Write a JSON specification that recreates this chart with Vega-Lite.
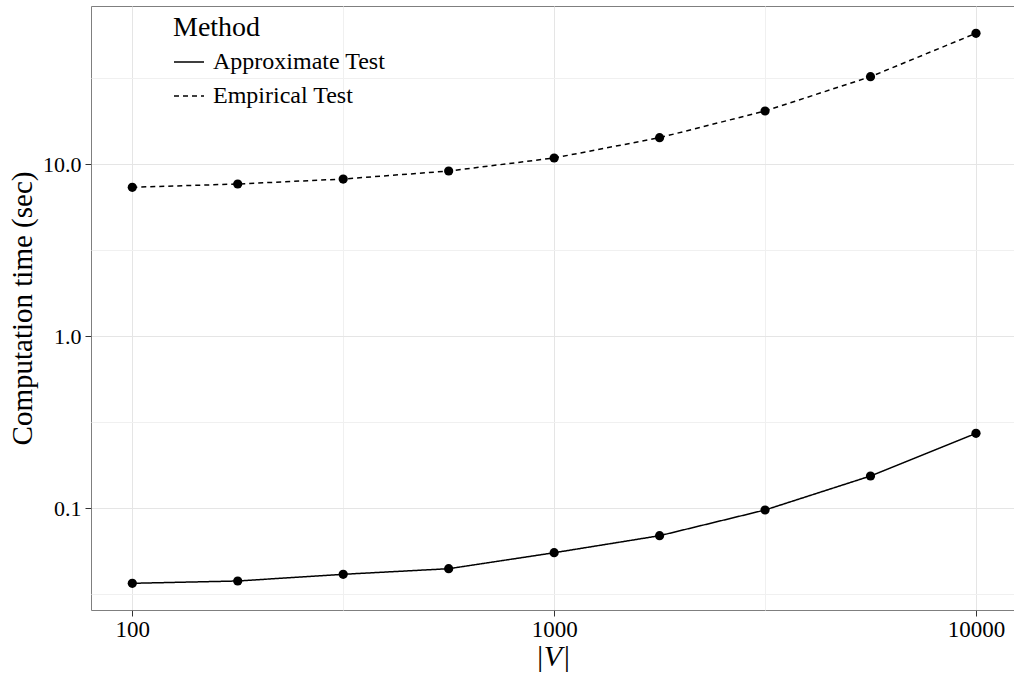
{
  "$schema": "https://vega.github.io/schema/vega-lite/v6.json",
  "width": 923,
  "height": 604,
  "autosize": {"type": "none"},
  "padding": {"left": 91, "top": 6, "right": 0, "bottom": 65},
  "background": "white",
  "config": {
    "view": {"stroke": "#7f7f7f", "strokeWidth": 1},
    "font": "Liberation Serif",
    "axis": {
      "labelFont": "Liberation Serif",
      "titleFont": "Liberation Serif",
      "labelColor": "black",
      "titleColor": "black",
      "titleFontWeight": "normal",
      "domain": false,
      "tickColor": "#333333",
      "tickWidth": 1,
      "tickSize": 6,
      "gridWidth": 1
    },
    "legend": {
      "labelFont": "Liberation Serif",
      "titleFont": "Liberation Serif",
      "titleFontWeight": "normal"
    }
  },
  "data": {
    "values": [
      {"V": 100, "time": 0.03664, "Method": "Approximate Test"},
      {"V": 177.8, "time": 0.03779, "Method": "Approximate Test"},
      {"V": 316.2, "time": 0.04133, "Method": "Approximate Test"},
      {"V": 562.3, "time": 0.04455, "Method": "Approximate Test"},
      {"V": 1000, "time": 0.05517, "Method": "Approximate Test"},
      {"V": 1778, "time": 0.06929, "Method": "Approximate Test"},
      {"V": 3162, "time": 0.09775, "Method": "Approximate Test"},
      {"V": 5623, "time": 0.1541, "Method": "Approximate Test"},
      {"V": 10000, "time": 0.2729, "Method": "Approximate Test"},
      {"V": 100, "time": 7.35, "Method": "Empirical Test"},
      {"V": 177.8, "time": 7.68, "Method": "Empirical Test"},
      {"V": 316.2, "time": 8.21, "Method": "Empirical Test"},
      {"V": 562.3, "time": 9.14, "Method": "Empirical Test"},
      {"V": 1000, "time": 10.88, "Method": "Empirical Test"},
      {"V": 1778, "time": 14.28, "Method": "Empirical Test"},
      {"V": 3162, "time": 20.41, "Method": "Empirical Test"},
      {"V": 5623, "time": 32.31, "Method": "Empirical Test"},
      {"V": 10000, "time": 57.77, "Method": "Empirical Test"}
    ]
  },
  "encoding": {
    "x": {
      "field": "V",
      "type": "quantitative",
      "scale": {"type": "log", "domain": [79.82, 12306], "nice": false, "zero": false},
      "axis": {
        "title": "|V|",
        "titleFontStyle": "italic",
        "titleFontSize": 30,
        "titlePadding": 0,
        "labelFontSize": 23,
        "labelPadding": 2,
        "values": [316.23, 100, 1000, 10000, 3162.3],
        "labelExpr": "abs(log(datum.value)/LN10 - round(log(datum.value)/LN10)) < 0.01 ? format(datum.value, 'd') : ''",
        "tickOpacity": {"condition": {"test": "abs(log(datum.value)/LN10 - round(log(datum.value)/LN10)) < 0.01", "value": 1}, "value": 0},
        "gridColor": {"condition": {"test": "abs(log(datum.value)/LN10 - round(log(datum.value)/LN10)) < 0.01", "value": "#e5e5e5"}, "value": "#f0f0f0"}
      }
    },
    "y": {
      "field": "time",
      "type": "quantitative",
      "scale": {"type": "log", "domain": [0.02563, 83.23], "nice": false, "zero": false},
      "axis": {
        "title": "Computation time (sec)",
        "titleFontSize": 29,
        "titlePadding": 5,
        "labelFontSize": 22,
        "labelPadding": 4,
        "values": [0.031623, 0.1, 0.31623, 1, 3.1623, 10, 31.623],
        "labelExpr": "abs(log(datum.value)/LN10 - round(log(datum.value)/LN10)) < 0.01 ? format(datum.value, '.1f') : ''",
        "tickOpacity": {"condition": {"test": "abs(log(datum.value)/LN10 - round(log(datum.value)/LN10)) < 0.01", "value": 1}, "value": 0},
        "gridColor": {"condition": {"test": "abs(log(datum.value)/LN10 - round(log(datum.value)/LN10)) < 0.01", "value": "#e5e5e5"}, "value": "#f0f0f0"}
      }
    }
  },
  "layer": [
    {
      "mark": {"type": "line", "color": "black", "strokeWidth": 1.5},
      "encoding": {
        "strokeDash": {
          "field": "Method",
          "type": "nominal",
          "scale": {"domain": ["Approximate Test", "Empirical Test"], "range": [[1, 0], [5, 4]]},
          "legend": {
            "orient": "none",
            "legendX": 82,
            "legendY": 8,
            "title": "Method",
            "titleFontSize": 28,
            "titleColor": "black",
            "titlePadding": 4,
            "labelFontSize": 24,
            "labelColor": "black",
            "labelLimit": 400,
            "labelOffset": 8,
            "symbolType": "stroke",
            "symbolSize": 900,
            "symbolStrokeWidth": 1.5,
            "symbolStrokeColor": "black",
            "rowPadding": 6
          }
        }
      }
    },
    {
      "mark": {"type": "point", "filled": true, "color": "black", "size": 85, "opacity": 1}
    }
  ]
}
